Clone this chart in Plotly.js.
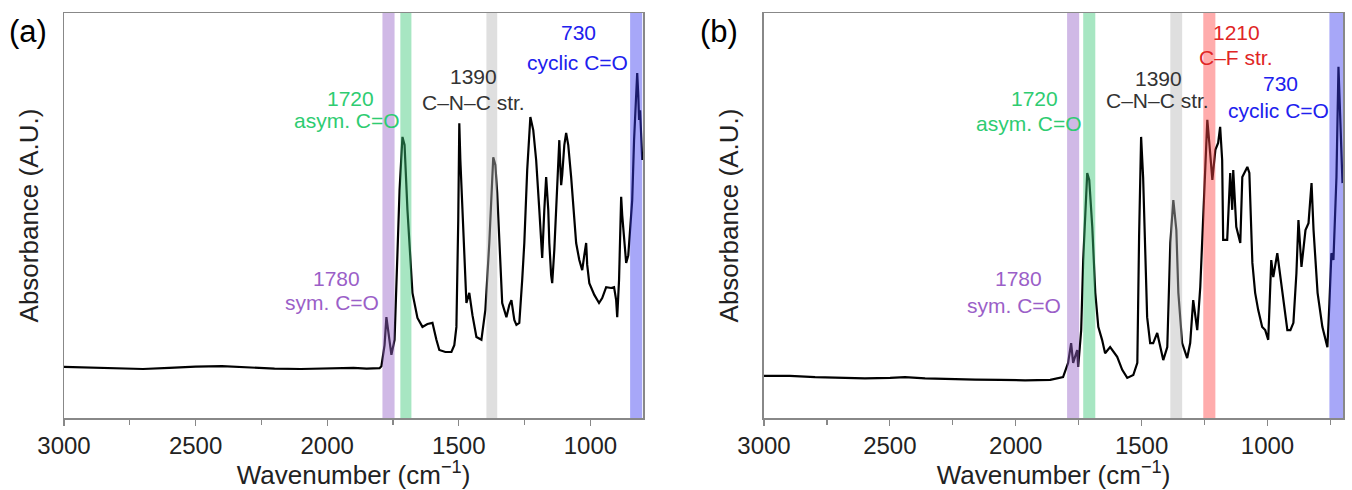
<!DOCTYPE html>
<html>
<head>
<meta charset="utf-8">
<script src="https://cdn.plot.ly/plotly-3.0.1.min.js"></script>
<style>html,body{margin:0;padding:0;background:#fff;}#chart{width:1352px;height:490px;}</style>
</head>
<body>
<div id="chart"></div>
<script>
// Panel (a) spectrum: wavenumber (cm-1) and absorbance (A.U.)
const wnA = [3000,2900,2800,2700,2600,2500,2400,2300,2200,2100,2000,1900,1850,1820,1801,1794,1782,1775,1767,1756,1744,1737,1725,1714,1706,1695,1676,1657,1638,1619,1600,1585,1574,1551,1528,1517,1509,1502,1498,1494,1486,1479,1471,1460,1448,1433,1414,1399,1384,1369,1361,1354,1342,1335,1319,1308,1300,1289,1281,1270,1259,1251,1240,1228,1217,1206,1194,1187,1183,1175,1168,1160,1156,1149,1145,1137,1130,1122,1118,1115,1111,1107,1099,1092,1084,1073,1061,1054,1042,1031,1023,1016,1012,1004,985,967,955,940,921,910,902,898,891,883,879,871,864,856,849,841,834,826,822,818,815,811,807,803];
const absA = [0.126,0.124,0.122,0.121,0.124,0.127,0.128,0.125,0.122,0.121,0.123,0.124,0.122,0.123,0.123,0.128,0.180,0.249,0.205,0.156,0.193,0.348,0.563,0.694,0.674,0.514,0.309,0.247,0.225,0.232,0.235,0.193,0.168,0.163,0.163,0.180,0.225,0.489,0.728,0.637,0.514,0.365,0.284,0.309,0.254,0.200,0.193,0.267,0.432,0.644,0.625,0.556,0.390,0.284,0.249,0.279,0.291,0.242,0.230,0.235,0.341,0.432,0.612,0.743,0.711,0.637,0.514,0.432,0.395,0.514,0.595,0.514,0.432,0.353,0.333,0.415,0.514,0.637,0.686,0.637,0.575,0.600,0.674,0.704,0.674,0.595,0.501,0.432,0.390,0.365,0.402,0.432,0.378,0.333,0.304,0.284,0.296,0.323,0.321,0.323,0.291,0.249,0.341,0.546,0.501,0.432,0.383,0.402,0.464,0.538,0.686,0.810,0.852,0.798,0.736,0.760,0.686,0.637];

// Panel (b) spectrum
const wnB = [3000,2897,2797,2698,2599,2499,2440,2360,2261,2161,2062,1963,1863,1812,1792,1780,1772,1756,1752,1740,1732,1716,1708,1696,1684,1672,1657,1645,1625,1597,1577,1557,1533,1517,1510,1502,1494,1486,1478,1466,1454,1438,1426,1414,1398,1386,1374,1362,1354,1339,1319,1307,1295,1279,1267,1255,1239,1231,1219,1207,1196,1188,1180,1176,1160,1148,1140,1136,1124,1108,1100,1080,1072,1060,1049,1037,1021,1009,997,985,977,961,949,937,921,909,897,885,877,865,849,837,825,817,801,782,762,754,746,738,726,718,710,702];
const absB = [0.104,0.104,0.101,0.099,0.098,0.099,0.101,0.098,0.096,0.095,0.094,0.093,0.094,0.101,0.136,0.185,0.136,0.168,0.126,0.217,0.390,0.605,0.588,0.472,0.309,0.225,0.193,0.160,0.175,0.151,0.119,0.099,0.106,0.136,0.447,0.694,0.595,0.432,0.249,0.185,0.185,0.210,0.175,0.143,0.175,0.432,0.538,0.464,0.309,0.185,0.148,0.185,0.291,0.217,0.323,0.514,0.736,0.679,0.588,0.662,0.679,0.719,0.637,0.440,0.440,0.605,0.514,0.612,0.472,0.432,0.595,0.620,0.605,0.383,0.309,0.267,0.225,0.217,0.193,0.390,0.348,0.407,0.348,0.284,0.217,0.217,0.235,0.358,0.489,0.373,0.464,0.481,0.580,0.464,0.309,0.225,0.175,0.284,0.407,0.390,0.595,0.867,0.719,0.580];

// Highlighted bands (cm-1): start, end
const bandsA = [[1790,1744],[1722,1680],[1395,1354],[849,803]];
const bandColorsA = ['purple','green','gray','blue'];
const bandsB = [[1796,1748],[1732,1684],[1386,1339],[1255,1207],[754,699]];
const bandColorsB = ['purple','green','gray','red','blue'];

// Peak labels: [wavenumber label, assignment]
const labelsA = [['1780','sym. C=O'],['1720','asym. C=O'],['1390','C–N–C str.'],['730','cyclic C=O']];
const labelsB = [['1780','sym. C=O'],['1720','asym. C=O'],['1390','C–N–C str.'],['1210','C–F str.'],['730','cyclic C=O']];

const xTicks = [3000,2500,2000,1500,1000];

const FONT = 'Liberation Sans, Arial, sans-serif';
const bandFill = {purple:'rgb(150,100,200)', green:'rgb(60,200,120)', gray:'rgb(185,185,185)', red:'rgb(255,70,70)', blue:'rgb(60,60,240)'};
const textColor = {purple:'#9b5fc8', green:'#2ecc71', gray:'#333333', red:'#e02525', blue:'#2020ee'};

// label placement (x in data units of own axis, y in paper units)
const placeA = [
  {x:[1964,1983], y:[0.344,0.286]},
  {x:[1912,1923], y:[0.790,0.734]},
  {x:[1445,1445], y:[0.842,0.780]},
  {x:[1046,1050], y:[0.951,0.879]}
];
const placeB = [
  {x:[1990,2006], y:[0.344,0.279]},
  {x:[1926,1947], y:[0.788,0.728]},
  {x:[1434,1438], y:[0.839,0.785]},
  {x:[1124,1124], y:[0.953,0.891]},
  {x:[949,957], y:[0.827,0.760]}
];

const traces = [
  {x:wnA, y:absA, xaxis:'x', yaxis:'y', type:'scatter', mode:'lines', line:{color:'#000', width:2.2}, hoverinfo:'skip'},
  {x:wnB, y:absB, xaxis:'x2', yaxis:'y2', type:'scatter', mode:'lines', line:{color:'#000', width:2.2}, hoverinfo:'skip'}
];

const shapes = [];
bandsA.forEach((b,i)=>shapes.push({type:'rect', xref:'x', yref:'y domain', x0:b[0], x1:b[1], y0:0, y1:1, fillcolor:bandFill[bandColorsA[i]], opacity:0.45, line:{width:0}, layer:'above'}));
bandsB.forEach((b,i)=>shapes.push({type:'rect', xref:'x2', yref:'y2 domain', x0:b[0], x1:b[1], y0:0, y1:1, fillcolor:bandFill[bandColorsB[i]], opacity:0.45, line:{width:0}, layer:'above'}));

const annotations = [];
function addLabels(labels, colors, place, xref){
  labels.forEach((l,i)=>{
    const c = textColor[colors[i]];
    annotations.push({xref:xref, yref:'paper', x:place[i].x[0], y:place[i].y[0], text:l[0], showarrow:false, font:{family:FONT, size:21, color:c}, xanchor:'center', yanchor:'middle'});
    annotations.push({xref:xref, yref:'paper', x:place[i].x[1], y:place[i].y[1], text:l[1], showarrow:false, font:{family:FONT, size:21, color:c}, xanchor:'center', yanchor:'middle'});
  });
}
addLabels(labelsA, bandColorsA, placeA, 'x');
addLabels(labelsB, bandColorsB, placeB, 'x2');
annotations.push({xref:'paper', yref:'paper', x:-0.0285, y:0.955, text:'(a)', showarrow:false, font:{family:FONT, size:31, color:'#000'}, xanchor:'center', yanchor:'middle'});
annotations.push({xref:'paper', yref:'paper', x:0.5125, y:0.955, text:'(b)', showarrow:false, font:{family:FONT, size:31, color:'#000'}, xanchor:'center', yanchor:'middle'});

function xAxis(domain, range, anchor){
  return {domain:domain, range:range, anchor:anchor, tickvals:xTicks, ticks:'outside', ticklen:6, tickwidth:1.2, tickcolor:'#888',
    showline:true, linecolor:'#888', linewidth:1.5, mirror:true, showgrid:false, zeroline:false,
    tickfont:{family:FONT, size:24, color:'#222'},
    minor:{dtick:250, tick0:0, ticks:'outside', ticklen:5, tickcolor:'#888', showgrid:false},
    title:{text:'Wavenumber (cm<sup>−1</sup>)', font:{family:FONT, size:26, color:'#222'}, standoff:1}};
}
function yAxis(domain, anchor){
  return {domain:domain, range:[0,1], anchor:anchor, showticklabels:false, ticks:'', showline:true, linecolor:'#888', linewidth:1.5, mirror:true, showgrid:false, zeroline:false,
    title:{text:'Absorbance (A.U.)', font:{family:FONT, size:26, color:'#222'}, standoff:16}};
}

const layout = {
  width:1352, height:490, paper_bgcolor:'#fff', plot_bgcolor:'#fff', showlegend:false,
  margin:{l:64, r:9, t:13, b:72},
  xaxis: xAxis([0,0.4527],[3000,800],'y'),
  yaxis: yAxis([0,1],'x'),
  xaxis2: xAxis([0.5473,1],[3000,700],'y2'),
  yaxis2: yAxis([0,1],'x2'),
  shapes:shapes, annotations:annotations
};

Plotly.newPlot('chart', traces, layout, {staticPlot:true, displayModeBar:false});
</script>
</body>
</html>
